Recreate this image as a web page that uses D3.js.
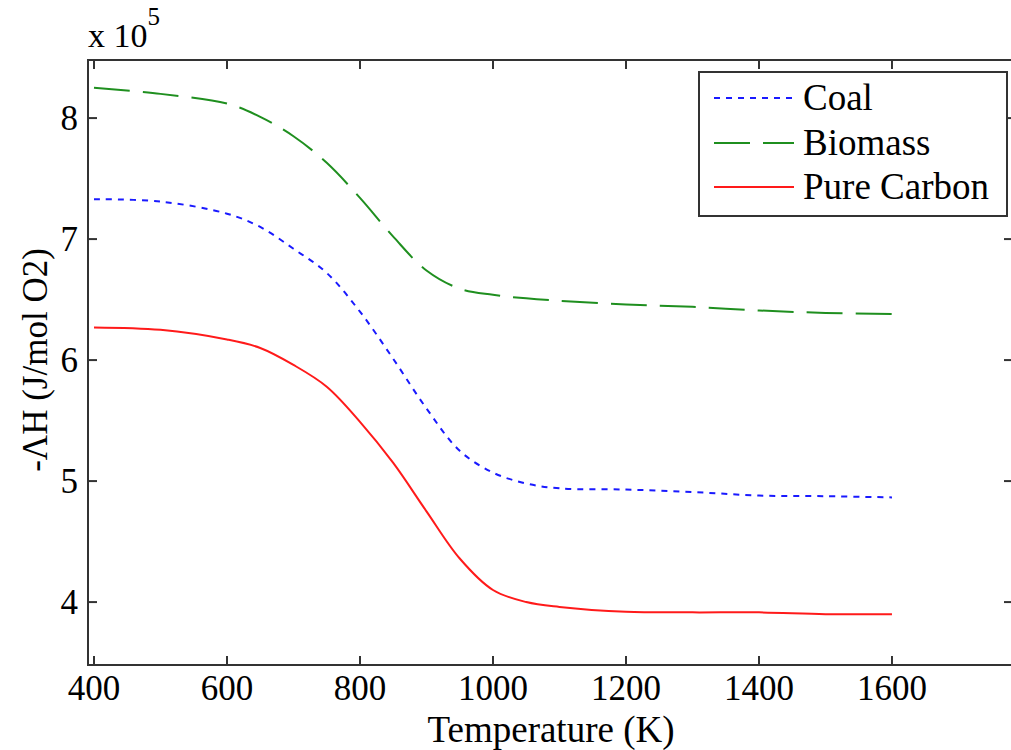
<!DOCTYPE html>
<html>
<head>
<meta charset="utf-8">
<script src="https://cdn.jsdelivr.net/npm/d3@7"></script>
<style>
  html, body { margin: 0; padding: 0; background: #fff; }
  svg { display: block; }
</style>
</head>
<body>
<svg id="chart" width="1011" height="750"></svg>
<script>
// ---- data (values in units of 1e5 J/mol O2) ----
const temperature = [400, 500, 600, 650, 700, 750, 800, 850, 900, 950, 1000, 1050, 1100, 1200, 1300, 1400, 1500, 1600];
const coal        = [7.33, 7.31, 7.21, 7.10, 6.92, 6.72, 6.40, 6.01, 5.60, 5.25, 5.07, 4.98, 4.94, 4.93, 4.91, 4.88, 4.875, 4.865];
const biomass     = [8.25, 8.20, 8.12, 8.01, 7.85, 7.63, 7.34, 7.02, 6.74, 6.59, 6.54, 6.51, 6.49, 6.46, 6.44, 6.41, 6.39, 6.38];
const pureCarbon  = [6.27, 6.25, 6.17, 6.10, 5.96, 5.78, 5.49, 5.15, 4.75, 4.36, 4.10, 4.00, 3.96, 3.92, 3.915, 3.915, 3.90, 3.90];
const xTicks = [400, 600, 800, 1000, 1200, 1400, 1600];
const yTicks = [4, 5, 6, 7, 8];
const seriesNames = ["Coal", "Biomass", "Pure Carbon"];
const seriesColors = ["#1a1aff", "#1f8f1f", "#ff1a1a"];
const seriesDash = ["6,6", "36,13", null];

const series = [coal, biomass, pureCarbon];

const svg = d3.select("#chart");
const pLeft = 88, pRight = 1013, pTop = 60, pBottom = 665;
const FONT = "Liberation Serif";

const x = d3.scaleLinear().domain([391, 1782]).range([pLeft, pRight]);
const y = d3.scaleLinear().domain([3.48, 8.48]).range([pBottom, pTop]);

const axisColor = "#333333";

// curves
const line = d3.line()
  .x(d => x(d[0]))
  .y(d => y(d[1]))
  .curve(d3.curveCatmullRom.alpha(0.5));

series.forEach((vals, i) => {
  svg.append("path")
    .datum(temperature.map((t, j) => [t, vals[j]]))
    .attr("d", line)
    .attr("fill", "none")
    .attr("stroke", seriesColors[i])
    .attr("stroke-width", 2)
    .attr("stroke-dasharray", seriesDash[i]);
});

// axes (box with inward ticks)
const tickLen = 9;
const gAx = svg.append("g").attr("stroke", axisColor).attr("stroke-width", 2);
gAx.append("rect").attr("x", pLeft).attr("y", pTop).attr("width", pRight - pLeft).attr("height", pBottom - pTop).attr("fill", "none");
xTicks.forEach(t => {
  gAx.append("line").attr("x1", x(t)).attr("x2", x(t)).attr("y1", pBottom).attr("y2", pBottom - tickLen);
  gAx.append("line").attr("x1", x(t)).attr("x2", x(t)).attr("y1", pTop).attr("y2", pTop + tickLen);
});
yTicks.forEach(t => {
  gAx.append("line").attr("x1", pLeft).attr("x2", pLeft + tickLen).attr("y1", y(t)).attr("y2", y(t));
  gAx.append("line").attr("x1", pRight).attr("x2", pRight - tickLen).attr("y1", y(t)).attr("y2", y(t));
});

function txt(sel) { return sel.style("font-family", FONT).attr("fill", "#000"); }

// tick labels
txt(svg.append("g").selectAll("text").data(xTicks).join("text"))
  .attr("x", d => x(d)).attr("y", 700)
  .attr("text-anchor", "middle").attr("font-size", 35)
  .text(d => d);
txt(svg.append("g").selectAll("text").data(yTicks).join("text"))
  .attr("x", 78).attr("y", d => y(d)).attr("dy", "0.35em")
  .attr("text-anchor", "end").attr("font-size", 35)
  .text(d => d);

// exponent
const ex = txt(svg.append("text")).attr("x", 88).attr("y", 47).attr("font-size", 34);
ex.append("tspan").text("x 10");
ex.append("tspan").attr("dy", -22).attr("font-size", 25).text("5");

// axis titles
txt(svg.append("text")).attr("x", 551).attr("y", 742)
  .attr("text-anchor", "middle").attr("font-size", 37).text("Temperature (K)");
txt(svg.append("text")).attr("transform", "translate(47,360) rotate(-90)")
  .attr("text-anchor", "middle").attr("font-size", 35).text("-ΛH (J/mol O2)");

// legend
const lg = svg.append("g");
lg.append("rect").attr("x", 699).attr("y", 72).attr("width", 308).attr("height", 144)
  .attr("fill", "#fff").attr("stroke", axisColor).attr("stroke-width", 2);
const legY = [98, 143, 187];
seriesNames.forEach((n, i) => {
  lg.append("line").attr("x1", 714).attr("x2", 794).attr("y1", legY[i]).attr("y2", legY[i])
    .attr("stroke", seriesColors[i]).attr("stroke-width", 2).attr("stroke-dasharray", seriesDash[i]);
  txt(lg.append("text")).attr("x", 803).attr("y", legY[i]).attr("dy", "0.33em")
    .attr("font-size", 37).text(n);
});
</script>
</body>
</html>
